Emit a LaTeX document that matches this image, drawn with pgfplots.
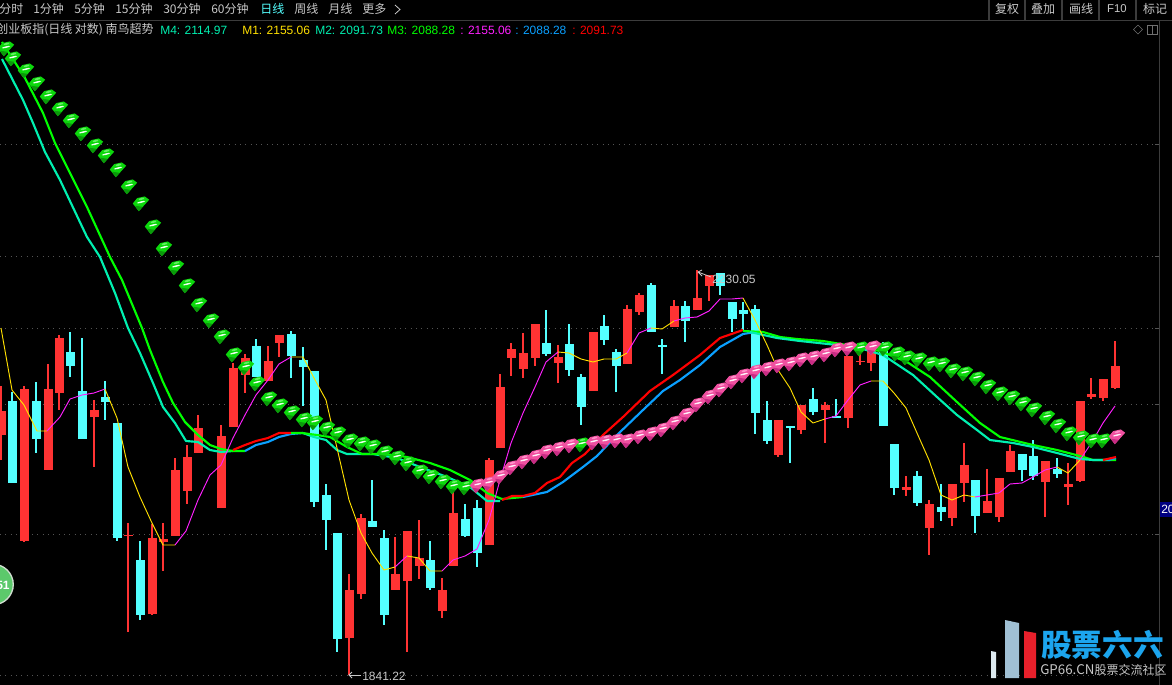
\documentclass[border=0pt]{standalone}
\usepackage{fontspec}
\setmainfont{Liberation Sans}
\newfontfamily\cjk{Noto Sans CJK SC}
\usepackage{pgfplots}
\usepackage{pgfplotstable}
\pgfplotsset{compat=1.18}

\definecolor{upred}{HTML}{FF3333}
\definecolor{downcyan}{HTML}{54FFFF}
\definecolor{lineteal}{HTML}{00F0B0}
\definecolor{linegreen}{HTML}{00FF00}
\definecolor{lineblue}{HTML}{0AA0FF}
\definecolor{linered}{HTML}{FF0000}
\definecolor{thinyellow}{HTML}{FFE000}
\definecolor{thinmag}{HTML}{FF20FF}
\definecolor{txt}{HTML}{C8C8C8}
\definecolor{rule}{HTML}{3C3C3C}
\definecolor{gridc}{HTML}{545454}
\definecolor{iconc}{HTML}{707070}
\definecolor{badge}{HTML}{5CC96B}
\definecolor{badger}{HTML}{D0DCD0}
\definecolor{tagc}{HTML}{000080}
\definecolor{wmA}{HTML}{DCE9EF}
\definecolor{wmB}{HTML}{A0C0D4}
\definecolor{wmC}{HTML}{E8202B}
\definecolor{wmT}{HTML}{1CA5EE}

% gem marks, 1pt in here is about one pixel after the scale
\newcommand{\defgem}[5]{%
  \pgfdeclareplotmark{#1}{%
    \pgftransformscale{0.82}%
    \pgfsetcolor{#2}%
    \pgfpathmoveto{\pgfpoint{-7.5pt}{-0.5pt}}%
    \pgfpathlineto{\pgfpoint{-3.5pt}{4.5pt}}%
    \pgfpathlineto{\pgfpoint{3.5pt}{6pt}}%
    \pgfpathlineto{\pgfpoint{7.5pt}{3pt}}%
    \pgfpathlineto{\pgfpoint{-2pt}{-7.5pt}}%
    \pgfpathclose\pgfusepath{fill}%
    \pgfsetcolor{#3}%
    \pgfpathmoveto{\pgfpoint{-5.5pt}{-2.5pt}}%
    \pgfpathlineto{\pgfpoint{-2pt}{-7.5pt}}%
    \pgfpathlineto{\pgfpoint{1.5pt}{-3.5pt}}%
    \pgfpathclose\pgfusepath{fill}%
    \pgfsetcolor{#4}%
    \pgfpathellipse{\pgfpoint{0.5pt}{3.8pt}}{\pgfpoint{2.6pt}{0.6pt}}{\pgfpoint{-0.2pt}{0.9pt}}%
    \pgfusepath{fill}%
    \pgfsetcolor{#5}%
    \pgfpathellipse{\pgfpoint{0pt}{0.8pt}}{\pgfpoint{3.8pt}{0.9pt}}{\pgfpoint{-0.2pt}{0.7pt}}%
    \pgfusepath{fill}%
  }}
\definecolor{gemA}{HTML}{0CD80C}\definecolor{gemB}{HTML}{0A9A0A}
\definecolor{gemC}{HTML}{60F060}\definecolor{gemD}{HTML}{F0FFF0}
\definecolor{pinkA}{HTML}{F050A0}\definecolor{pinkB}{HTML}{C82C84}
\definecolor{pinkC}{HTML}{FF90C8}\definecolor{pinkD}{HTML}{FFF0F8}
\defgem{gemgreen}{gemA}{gemB}{gemC}{gemD}
\defgem{gempink}{pinkA}{pinkB}{pinkC}{pinkD}

% candles in picture pixels: x, body top, body bottom, wick top, wick bottom
\pgfplotstableread{
x top bot hi lo
1 411 435 386 460
24 389 541 386 542
48 389 470 364 470
59 338 393 335 410
94 410 417 400 467
128 535 536 523 632
152 538 614 524 615
163 539 542 523 571
175 470 536 458 536
187 457 491 445 504
198 428 453 415 453
221 436 508 425 508
233 368 427 363 427
245 358 375 354 393
268 361 381 346 381
279 335 343 335 357
349 590 638 574 675
361 518 594 514 599
395 574 590 537 590
407 531 581 531 652
419 558 566 520 579
442 590 611 578 618
453 513 566 492 566
489 460 545 458 545
500 387 448 374 448
511 349 358 343 376
523 353 369 333 378
535 324 358 324 366
558 357 363 345 383
593 332 391 332 391
627 309 364 305 364
639 295 312 293 315
674 306 327 300 327
697 298 310 270 310
709 275 286 275 301
778 420 455 420 457
801 405 430 405 434
825 405 410 402 443
848 356 418 356 428
860 361 362 350 365
871 350 363 345 371
906 487 490 476 496
929 504 528 500 555
952 484 518 484 526
964 465 483 443 502
987 501 513 469 513
999 478 517 478 522
1010 451 472 445 472
1045 461 482 461 517
1068 484 487 463 505
1080 401 481 401 482
1091 394 397 378 399
1103 379 398 379 401
1115 366 388 341 389
}\upcandles

\pgfplotstableread{
x top bot hi lo
12 401 483 392 483
36 401 439 382 453
70 352 366 332 377
82 391 439 338 439
105 397 402 381 420
117 423 538 423 541
140 560 615 541 620
256 346 377 339 377
291 334 356 331 378
303 360 367 347 406
314 371 502 371 507
326 495 520 484 550
337 533 639 533 652
372 521 527 480 527
384 538 615 530 625
430 560 588 541 590
465 519 536 504 537
477 508 553 500 567
546 343 354 310 356
569 344 370 324 376
581 377 407 374 425
604 326 340 315 345
616 352 366 349 392
651 285 332 283 332
662 345 347 339 374
685 306 321 301 342
720 273 286 273 295
732 302 319 302 332
743 310 314 302 330
755 309 413 305 434
767 420 441 401 444
790 426 428 426 463
813 399 412 388 415
836 416 418 399 418
883 350 426 342 426
894 444 488 444 495
917 476 503 471 506
941 507 512 484 521
975 480 516 480 533
1022 454 470 454 481
1033 456 476 440 480
1057 469 474 458 478
}\downcandles

\pgfplotsset{
  candle/.style 2 args={draw=none, mark=none, forget plot,
    error bars/.cd, y dir=plus, y explicit, error mark=none,
    error bar style={draw=#1, line width=#2}},
  thiny/.style={thinyellow, line width=0.7pt, mark=none, forget plot},
  thinm/.style={thinmag, line width=0.7pt, mark=none, forget plot},
  mline/.style={#1, line width=1.6pt, mark=none, forget plot, line join=round},
  gem/.style={only marks, mark=#1, forget plot},
}
\newcommand{\lab}[4]{\node[anchor=west, inner sep=0pt, text=#3, font=\fontsize{9}{9}\selectfont] at (axis cs:#1,#2) {#4};}
\newcommand{\btn}[2]{\node[inner sep=0pt, text=txt, font=\cjk\fontsize{9}{9}\selectfont] at (axis cs:#1,9) {#2};}

\begin{document}
\begin{tikzpicture}
\fill[black] (0,0) rectangle (879pt,513.75pt);
\begin{axis}[
    scale only axis,
    width=879pt, height=513.75pt,
    xmin=0, xmax=1172, ymin=0, ymax=685,
    y dir=reverse,
    axis line style={draw=none},
    xtick=\empty, ytick=\empty,
    axis background/.style={fill=black},
]

% price grid
\pgfplotsinvokeforeach{144,256,328,404,534,675}{
  \addplot[gridc, line width=0.6pt, dash pattern=on 0.8pt off 3.2pt, forget plot] coordinates {(0,#1)(1155,#1)};
  \addplot[gridc, line width=0.6pt, forget plot] coordinates {(1155,#1)(1160,#1)};
}

% wicks then bodies
\addplot[candle={upred}{0.8pt}] table[x=x, y=hi, y error plus expr=\thisrow{lo}-\thisrow{hi}] {\upcandles};
\addplot[candle={upred}{6.75pt}] table[x=x, y=top, y error plus expr=\thisrow{bot}-\thisrow{top}] {\upcandles};
\addplot[candle={downcyan}{0.8pt}] table[x=x, y=hi, y error plus expr=\thisrow{lo}-\thisrow{hi}] {\downcandles};
\addplot[candle={downcyan}{6.75pt}] table[x=x, y=top, y error plus expr=\thisrow{bot}-\thisrow{top}] {\downcandles};

% trend gems
\addplot[gem=gemgreen] coordinates {
(6,48)(13,58)(26,70)(37,83)(48,96)(60,108)(71,120)(83,133)(95,145)(106,155)(118,169)(129,186)(141,203)(153,226)(164,248)(176,267)(187,285)(199,304)(211,320)(222,336)(234,354)(246,367)(257,383)(269,398)(280,405)(292,412)(304,419)(315,422)(327,428)(338,433)(350,440)(362,443)(373,446)(385,452)(397,457)(408,463)(420,471)(431,476)(443,481)(454,486)(466,487)
(582,444)(861,348)(885,348)(897,353)(907,357)(919,359)(931,363)(942,364)(953,370)(965,373)(977,378)(988,386)(1000,393)(1012,397)(1023,403)(1034,409)(1047,417)(1058,425)(1069,433)(1081,437)(1093,440)(1104,440)
};
\addplot[gem=gempink] coordinates {
(478,485)(489,483)(501,476)(512,467)(524,461)(536,456)(547,451)(559,448)(571,445)(594,442)(606,441)(617,440)(628,440)(640,436)(652,433)(663,429)(675,422)(687,414)(698,404)(710,396)(721,389)(733,381)(744,375)(756,371)(768,368)(779,365)(791,363)(802,359)(814,357)(826,354)(837,349)(849,348)(873,347)(1117,436)
};

% M2 / M3 falling parts
\addplot[mline=lineteal] coordinates {(2,59)(23,100)(33,123)(45,152)(60,180)(78,218)(87,237)(100,257)(115,293)(128,328)(140,353)(153,383)(163,407)(175,423)(186,441)(198,442)(210,450)(221,452)(233,451)};
\addplot[mline=linegreen] coordinates {(2,42)(25,78)(43,113)(55,143)(70,173)(87,207)(110,257)(122,280)(142,328)(150,350)(163,382)(173,403)(185,422)(198,435)(210,445)(221,449)(233,451)(245,451)};
\addplot[mline=lineblue] coordinates {(245,451)(256,445)(268,442)(279,437)(291,434)(303,433)};
\addplot[mline=linered] coordinates {(233,450)(245,445)(256,441)(268,438)(279,433)(291,433)};
\addplot[mline=lineteal] coordinates {(303,433)(314,437)(326,440)(337,450)(347,454)(373,454)(397,458)(420,467)(447,477)(470,487)(487,501)(500,501)};
\addplot[mline=linegreen] coordinates {(291,433)(302,433)(317,435)(330,437)(347,447)(362,454)(385,454)(407,457)(430,463)(450,470)(470,480)(487,493)(502,499)(523,497)};
\addplot[mline=lineblue] coordinates {(523,497)(547,492)(563,482)(583,467)(597,456)(617,435)(643,410)(663,391)(680,380)(700,365)(720,347)(743,334)(755,332)};
\addplot[mline=linered] coordinates {(502,500)(512,496)(523,496)(535,493)(547,483)(560,477)(572,463)(585,454)(603,435)(623,417)(650,391)(673,375)(700,355)(720,338)(743,330)};
\addplot[mline=linegreen] coordinates {(743,331)(763,332)(780,337)(797,339)(823,341)(853,346)(880,351)(907,362)(930,377)(957,402)(980,423)(1000,437)(1033,445)(1057,450)(1080,456)(1093,460)(1116,460)};
\addplot[mline=lineteal] coordinates {(750,332)(777,338)(800,341)(837,345)(863,349)(883,355)(913,375)(937,397)(957,415)(977,430)(990,440)(1013,443)(1033,447)(1057,453)(1080,459)(1093,460)(1110,460)};
\addplot[mline=lineblue] coordinates {(1108,460)(1116,458)};
\addplot[mline=linered] coordinates {(1103,460)(1116,457)};

% M1, yellow falling and magenta rising
\addplot[thiny] coordinates {(1,328)(12,390)(24,405)(37,431)(47,431)};
\addplot[thinm] coordinates {(47,431)(60,417)(70,399)(82,395)(94,393)(105,389)};
\addplot[thiny] coordinates {(105,389)(117,418)(128,467)(140,497)(152,523)(163,545)(175,545)};
\addplot[thinm] coordinates {(175,545)(186,531)(198,500)(210,475)(221,465)(233,438)(245,415)(256,395)(268,380)(279,364)(291,357)};
\addplot[thiny] coordinates {(291,357)(303,357)(314,378)(326,400)(337,448)(349,500)(361,533)(372,553)(384,570)(395,567)};
\addplot[thinm] coordinates {(395,567)(407,556)};
\addplot[thiny] coordinates {(407,556)(419,558)(430,571)(442,571)};
\addplot[thinm] coordinates {(442,571)(453,560)(465,556)(477,549)(489,520)(500,480)(511,443)(523,413)(535,387)(546,362)(558,352)};
\addplot[thiny] coordinates {(558,352)(569,353)(581,359)(593,362)(604,359)(616,359)(627,353)};
\addplot[thinm] coordinates {(627,353)(639,333)(651,328)};
\addplot[thiny] coordinates {(651,328)(662,329)(674,321)};
\addplot[thinm] coordinates {(674,321)(685,318)(697,317)(709,311)(720,299)(732,299)(743,298)};
\addplot[thiny] coordinates {(743,298)(755,320)(767,345)(778,370)(790,388)(801,412)(813,423)(825,419)};
\addplot[thinm] coordinates {(825,419)(836,416)(848,400)(860,385)(871,381)};
\addplot[thiny] coordinates {(871,381)(883,381)(894,393)(906,408)(917,433)(929,460)(941,495)(952,500)(964,495)(975,497)};
\addplot[thinm] coordinates {(975,497)(987,495)(999,493)(1010,484)(1022,483)(1033,477)(1045,470)(1057,467)};
\addplot[thiny] coordinates {(1057,467)(1068,473)(1080,460)};
\addplot[thinm] coordinates {(1080,460)(1092,442)(1103,423)(1115,406)};

% high and low labels
\lab{362}{676}{txt}{1841.22}
\addplot[txt, line width=0.6pt, forget plot] coordinates {(361,675)(349,675)};
\addplot[txt, line width=0.6pt, forget plot] coordinates {(352,672)(349,675)(352,678)};
\lab{712}{279}{txt}{2230.05}
\addplot[txt, line width=0.6pt, forget plot] coordinates {(711,277)(698,272)};
\addplot[txt, line width=0.6pt, forget plot] coordinates {(702,270)(698,272)(702,276)};

% frame and header
\addplot[rule, line width=0.8pt, forget plot] coordinates {(0,20.5)(1172,20.5)};
\addplot[rule, line width=0.8pt, forget plot] coordinates {(1159.5,20.5)(1159.5,685)};
\pgfplotsinvokeforeach{989,1025,1062,1099,1136}{
  \addplot[rule, line width=0.8pt, forget plot] coordinates {(#1,0)(#1,20.5)};
}
\lab{-1}{9}{txt}{\cjk 分时}
\lab{33}{9}{txt}{\cjk 1分钟}
\lab{74}{9}{txt}{\cjk 5分钟}
\lab{115}{9}{txt}{\cjk 15分钟}
\lab{163}{9}{txt}{\cjk 30分钟}
\lab{211}{9}{txt}{\cjk 60分钟}
\lab{260}{9}{downcyan}{\cjk 日线}
\lab{294}{9}{txt}{\cjk 周线}
\lab{328}{9}{txt}{\cjk 月线}
\lab{362}{9}{txt}{\cjk 更多}
\addplot[txt, line width=0.6pt, forget plot] coordinates {(395,5)(400,9.5)(395,14)};
\btn{1007}{复权}
\btn{1043}{叠加}
\btn{1081}{画线}
\node[inner sep=0pt, text=txt, font=\fontsize{8.5}{9}\selectfont] at (axis cs:1117,9) {F10};
\btn{1155}{标记}

\lab{-4}{30}{txt}{\cjk 创业板指(日线 对数) 南鸟超势}
\lab{160}{30}{lineteal}{M4: 2114.97}
\lab{242}{30}{thinyellow}{M1: 2155.06}
\lab{315}{30}{lineteal}{M2: 2091.73}
\lab{387}{30}{linegreen}{M3: 2088.28}
\lab{460}{30}{thinmag}{: 2155.06}
\lab{515}{30}{lineblue}{: 2088.28}
\lab{572}{30}{linered}{: 2091.73}
\addplot[iconc, line width=0.5pt, forget plot] coordinates {(1138,25)(1142.5,29.5)(1138,34)(1133.5,29.5)(1138,25)};
\addplot[iconc, line width=0.5pt, forget plot] coordinates {(1147,25)(1157,25)(1157,34)(1147,34)(1147,25)};
\addplot[iconc, line width=0.5pt, forget plot] coordinates {(1152,25)(1152,34)};

% round badge and price tag
\filldraw[fill=badge, draw=badger, line width=1pt] (axis cs:-7,584.5) circle (15.2pt);
\node[inner sep=0pt, text=white, font=\bfseries\fontsize{9}{9}\selectfont] at (axis cs:3,585) {51};
\addplot[draw=none, fill=tagc, forget plot] coordinates {(1160,502)(1172,502)(1172,517)(1160,517)} --cycle;
\lab{1161}{509.5}{white}{20}

% watermark
\addplot[draw=none, fill=wmA, forget plot] coordinates {(991,651)(996,652)(996,678)(991,678)} --cycle;
\addplot[draw=none, fill=wmB, forget plot] coordinates {(1005,620)(1019,623)(1019,678)(1005,678)} --cycle;
\addplot[draw=none, fill=wmC, forget plot] coordinates {(1024,631)(1036,633)(1036,678)(1024,678)} --cycle;
\node[anchor=west, inner sep=0pt, text=wmT, font=\cjk\bfseries\fontsize{23}{23}\selectfont] at (axis cs:1041,645) {股票六六};
\node[anchor=west, inner sep=0pt, text=txt, font=\cjk\fontsize{10}{10}\selectfont] at (axis cs:1040,670) {GP66.CN\fontsize{9}{9}\selectfont 股票交流社区};
\end{axis}
\pgfresetboundingbox
\useasboundingbox (0,0) rectangle (879pt,513.75pt);
\end{tikzpicture}
\end{document}
